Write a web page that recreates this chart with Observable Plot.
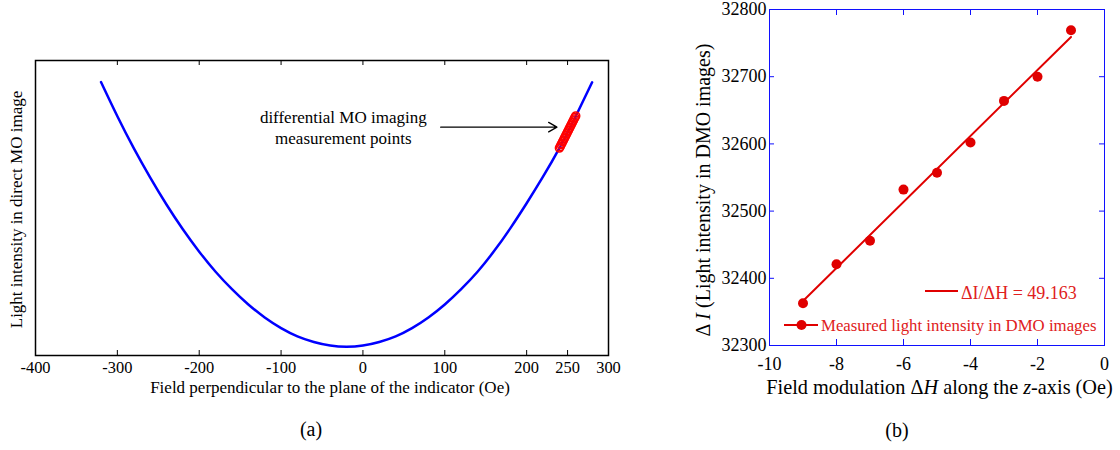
<!DOCTYPE html>
<html><head><meta charset="utf-8">
<script src="https://cdn.jsdelivr.net/npm/d3@7"></script>
<script src="https://cdn.jsdelivr.net/npm/@observablehq/plot@0.6"></script>
<style>
body{margin:0;background:#fff;}
#wrap{position:relative;width:1120px;height:450px;font-family:"Liberation Serif",serif;}
.panel{position:absolute;top:0;}
</style></head><body>
<div id="wrap"><div id="a" class="panel" style="left:0"></div><div id="b" class="panel" style="left:640px"></div></div>
<script>
// ---- panel (a) data ----
const curveField = [-320,-300,-280,-260,-240,-220,-200,-180,-160,-140,-120,-100,-80,-60,-40,-20,0,20,40,60,80,100,120,140,160,180,200,220,240,260,280];
const curveIntensity = [92.7,81.1,70.3,60.4,51.2,42.8,35.2,28.4,22.5,17.3,12.9,9.3,6.5,4.6,3.4,3.0,3.4,4.6,6.5,9.3,12.9,17.3,22.5,28.4,35.3,43.1,51.6,60.6,70.3,81.1,92.6];
const pointField = [240,241,242,243,244,245,246,247,248,249,250,251,252,253,254,255,256,257,258,259,260];
const pointIntensity = [70.3,70.8,71.4,71.9,72.5,73.0,73.6,74.1,74.7,75.2,75.8,76.3,76.9,77.4,78.0,78.5,79.1,79.6,80.2,80.7,81.2];
const xTicksA = [-400,-300,-200,-100,0,100,200,250,300];
const annotationText = "differential MO imaging\nmeasurement points";
const annotationPos = [-24, 77.4];
const arrowStart = [95, 77.4];
const arrowEnd = [237, 77.4];
const xLabelA = "Field perpendicular to the plane of the indicator (Oe)";
const yLabelA = "Light intensity in direct MO image";

// ---- panel (b) data ----
const modulation = [-9,-8,-7,-6,-5,-4,-3,-2,-1];
const measured = [32363,32421,32456,32532,32557,32602,32664,32700,32769];
const slopeLabel = "ΔI/ΔH = 49.163";
const pointsLabel = "Measured light intensity in DMO images";
const xTicksB = [-10,-8,-6,-4,-2,0];
const yTicksB = [32300,32400,32500,32600,32700,32800];

const font = "Liberation Serif";
const red = "#e00000";

// ---------- (a) ----------
const curve = curveField.map((x,i)=>({x, y: curveIntensity[i]}));
const pts = pointField.map((x,i)=>({x, y: pointIntensity[i]}));
const xa = d3.extent(xTicksA);
const inner = xTicksA.filter(t => t > xa[0] && t < xa[1]);
const hA = 450, mtA = 60, mbA = 95;
const frameHA = hA - mtA - mbA;
const chartA = Plot.plot({
  width: 640, height: hA,
  marginLeft: 35, marginRight: 32, marginTop: mtA, marginBottom: mbA,
  style: {fontFamily: font, fontSize: "16px", background: "white", color: "black", overflow: "visible"},
  x: {domain: xa, axis: null},
  y: {domain: [0, 100], axis: null},
  marks: [
    Plot.tickX(inner, {x: d=>d, insetTop: frameHA - 5, stroke: "black"}),
    Plot.tickX(inner, {x: d=>d, insetBottom: frameHA - 5, stroke: "black"}),
    Plot.axisX({ticks: xTicksA, tickSize: 0, tickPadding: 6, tickFormat: d=>String(d), label: null, fontSize: 16.4}),
    Plot.line(curve, {x: "x", y: "y", stroke: "#0000ff", strokeWidth: 2.5, curve: "natural"}),
    Plot.dot(pts, {x: "x", y: "y", r: 4, stroke: "#ff0000", strokeWidth: 1.5, fill: "none"}),
    Plot.arrow([0], {x1: ()=>arrowStart[0], y1: ()=>arrowStart[1], x2: ()=>arrowEnd[0], y2: ()=>arrowEnd[1], stroke: "black", strokeWidth: 1.3, headLength: 11}),
    Plot.text([annotationText], {text: d=>d, x: ()=>annotationPos[0], y: ()=>annotationPos[1], fontSize: 17, lineHeight: 1.2, fill: "black"}),
    Plot.text([yLabelA], {text: d=>d, frameAnchor: "left", textAnchor: "middle", rotate: -90, dx: -19, dy: 1.5, fontSize: 17, fill: "black"}),
    Plot.text([xLabelA], {text: d=>d, frameAnchor: "bottom", dx: 8, dy: 37, fontSize: 17, fill: "black"}),
    Plot.text(["(a)"], {text: d=>d, frameAnchor: "bottom", dx: -11, dy: 80, fontSize: 20, fill: "black"}),
    Plot.frame({stroke: "black", strokeWidth: 1.5})
  ]
});
document.getElementById("a").appendChild(chartA);

// ---------- (b) ----------
const meas = modulation.map((x,i)=>({x, y: measured[i]}));
const xb = d3.extent(xTicksB), yb = d3.extent(yTicksB);
const wB = 480, hB = 450, mlB = 129, mrB = 16, mtB = 9, mbB = 105;
const frameWB = wB - mlB - mrB, frameHB = hB - mtB - mbB;
const innerXB = xTicksB.filter(t => t > xb[0] && t < xb[1]);
const innerYB = yTicksB.filter(t => t > yb[0] && t < yb[1]);
const blue = "#1010ff";
const chartB = Plot.plot({
  width: wB, height: hB,
  marginLeft: mlB, marginRight: mrB, marginTop: mtB, marginBottom: mbB,
  style: {fontFamily: font, fontSize: "18px", background: "white", color: "black", overflow: "visible"},
  x: {domain: xb, axis: null},
  y: {domain: yb, axis: null},
  marks: [
    Plot.tickX(innerXB, {x: d=>d, insetTop: frameHB - 6, stroke: blue}),
    Plot.tickX(innerXB, {x: d=>d, insetBottom: frameHB - 6, stroke: blue}),
    Plot.tickY(innerYB, {y: d=>d, insetRight: frameWB - 5, stroke: blue}),
    Plot.tickY(innerYB, {y: d=>d, insetLeft: frameWB - 5, stroke: blue}),
    Plot.axisX({ticks: xTicksB, tickSize: 0, tickPadding: 12, tickFormat: d=>String(d), label: null, fontSize: 18}),
    Plot.axisY({ticks: yTicksB, tickSize: 0, tickPadding: 3, tickFormat: d=>String(d), label: null, fontSize: 18}),
    Plot.linearRegressionY(meas, {x: "x", y: "y", stroke: red, strokeWidth: 2, ci: 0}),
    Plot.dot(meas, {x: "x", y: "y", r: 5, fill: red}),
    Plot.text(["(b)"], {text: d=>d, frameAnchor: "bottom", dx: -40, dy: 91, fontSize: 20, fill: "black"}),
    Plot.frame({stroke: blue, strokeWidth: 1})
  ]
});
document.getElementById("b").appendChild(chartB);

// labels with italic parts and legend
const svgB = d3.select(chartB);
const xr = chartB.scale("x").range, yr = chartB.scale("y").range;
const xc = (xr[0] + xr[1]) / 2, yc = (yr[0] + yr[1]) / 2;
const xl = svgB.append("text").attr("x", xc + 3).attr("y", yr[0] + 49)
  .attr("text-anchor", "middle").attr("font-family", font).attr("font-size", 20.3).attr("fill", "black");
xl.append("tspan").text("Field modulation Δ");
xl.append("tspan").attr("font-style", "italic").text("H");
xl.append("tspan").text(" along the ");
xl.append("tspan").attr("font-style", "italic").text("z");
xl.append("tspan").text("-axis (Oe)");
const yl = svgB.append("text").attr("transform", `translate(${xr[0] - 66},${yc + 13}) rotate(-90)`)
  .attr("text-anchor", "middle").attr("dominant-baseline", "central").attr("font-family", font).attr("font-size", 20).attr("fill", "black");
yl.append("tspan").text("Δ ");
yl.append("tspan").attr("font-style", "italic").text("I");
yl.append("tspan").text(" (Light intensity in DMO images)");

// legend
const lg = svgB.append("g").attr("font-family", font).attr("text-anchor", "start");
lg.append("line").attr("x1", 285).attr("x2", 318).attr("y1", 291).attr("y2", 291).attr("stroke", red).attr("stroke-width", 2);
lg.append("text").attr("x", 321).attr("y", 299).attr("text-anchor", "start").attr("font-size", 18).attr("fill", "#e02020").text(slopeLabel);
lg.append("line").attr("x1", 144).attr("x2", 178).attr("y1", 325).attr("y2", 325).attr("stroke", red).attr("stroke-width", 2);
lg.append("circle").attr("cx", 161.5).attr("cy", 325).attr("r", 5).attr("fill", red);
lg.append("text").attr("x", 181).attr("y", 331).attr("text-anchor", "start").attr("font-size", 16.8).attr("fill", "#e02020").text(pointsLabel);
</script>
</body></html>
